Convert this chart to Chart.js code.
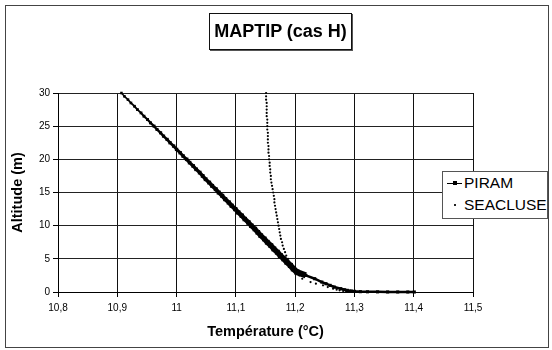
<!DOCTYPE html>
<html>
<head>
<meta charset="utf-8">
<script src="https://cdn.jsdelivr.net/npm/chart.js@4/dist/chart.umd.min.js"></script>
<style>
  body { margin: 0; background: #fff; }
  #wrap { position: relative; width: 552px; height: 350px; font-family: Arial, "Liberation Sans", sans-serif; }
  #frame { position: absolute; left: 5px; top: 5px; width: 542px; height: 341px; border: 1px solid #444; }
  #title { position: absolute; left: 209px; top: 13px; width: 141px; height: 35px; border: 1px solid #111;
           box-shadow: 1px 1px 0 #555; background: #fff; font-weight: bold; font-size: 18px;
           line-height: 35px; text-align: center; color: #000; }
  #legend { position: absolute; left: 442px; top: 171px; width: 104px; height: 46px; border: 1px solid #555;
            background: #fff; font-size: 15.5px; color: #000; }
  #legend div { position: relative; height: 22px; line-height: 22px; padding-left: 21px; }
  .sym-line { position: absolute; left: 4px; top: 11px; width: 15px; height: 1px; background: #000; }
  .sym-sq { position: absolute; left: 10px; top: 9px; width: 4px; height: 4px; background: #000; }
  .sym-dot { position: absolute; left: 11px; top: 10px; width: 2px; height: 2px; background: #222; }
  canvas { position: absolute; left: 0; top: 0; }
</style>
</head>
<body>
<div id="wrap">
  <div id="frame"></div>
  <canvas id="myChart" width="552" height="350"></canvas>
  <div id="title">MAPTIP (cas H)</div>
  <div id="legend">
    <div><span class="sym-line"></span><span class="sym-sq"></span>PIRAM</div>
    <div><span class="sym-dot"></span>SEACLUSE</div>
  </div>
</div>
<script>
// altitude grid (m), shared by both models
var altitude = [30, 29.5, 29, 28.5, 28, 27.5, 27, 26.5, 26, 25.5, 25, 24.5, 24, 23.5, 23, 22.5, 22, 21.5, 21, 20.5,
    20, 19.5, 19, 18.5, 18, 17.5, 17, 16.5, 16, 15.5, 15, 14.5, 14, 13.5, 13, 12.5, 12, 11.5, 11, 10.5,
    10, 9.5, 9, 8.5, 8, 7.5, 7, 6.5, 6, 5.5, 5, 4.5, 4, 3.5, 3, 2.5, 2, 1.5, 1.25, 1,
    0.75, 0.5, 0.35, 0.25, 0.15, 0.1, 0.05, 0.03, 0.02, 0.01, 0.005, 0.002, 0.001];

// temperature (°C)
var piram = [10.907, 10.912, 10.918, 10.923, 10.929, 10.934, 10.940, 10.945, 10.951, 10.956, 10.962, 10.967, 10.973, 10.978, 10.984, 10.989, 10.995, 11.000, 11.006, 11.011,
    11.017, 11.022, 11.028, 11.033, 11.039, 11.044, 11.049, 11.055, 11.060, 11.066, 11.071, 11.077, 11.082, 11.088, 11.093, 11.099, 11.104, 11.110, 11.115, 11.121,
    11.126, 11.132, 11.137, 11.142, 11.148, 11.153, 11.159, 11.164, 11.170, 11.175, 11.181, 11.186, 11.192, 11.197, 11.203, 11.218, 11.233, 11.245, 11.252, 11.259,
    11.266, 11.277, 11.283, 11.288, 11.295, 11.300, 11.310, 11.322, 11.339, 11.356, 11.373, 11.390, 11.401];

var seacluse = [11.151, 11.151, 11.151, 11.152, 11.152, 11.152, 11.152, 11.152, 11.153, 11.153, 11.153, 11.153, 11.154, 11.154, 11.154, 11.154, 11.155, 11.155, 11.155, 11.156,
    11.156, 11.157, 11.157, 11.158, 11.158, 11.159, 11.159, 11.160, 11.161, 11.162, 11.163, 11.164, 11.165, 11.165, 11.166, 11.167, 11.168, 11.169, 11.170, 11.171,
    11.172, 11.173, 11.174, 11.175, 11.176, 11.178, 11.179, 11.181, 11.183, 11.185, 11.188, 11.190, 11.193, 11.197, 11.202, 11.207, 11.212, 11.226, 11.235, 11.247,
    11.255, 11.264, 11.270, 11.275, 11.281, 11.286, 11.289, 11.291, 11.293, 11.295, 11.296, 11.297, 11.298];

var xTickLabels = ['10,8', '10,9', '11', '11,1', '11,2', '11,3', '11,4', '11,5'];

var font = 'Arial, "Liberation Sans", sans-serif';

var ctx = document.getElementById('myChart').getContext('2d');
var myChart = new Chart(ctx, {
    type: 'scatter',
    data: {
        datasets: [{
            label: 'PIRAM',
            data: altitude.map(function (a, i) { return { x: piram[i], y: a }; }),
            showLine: true,
            borderColor: '#000',
            backgroundColor: '#000',
            borderWidth: 1.5,
            // the printed band gets thicker toward the surface
            segment: {
                borderWidth: function (c) {
                    var y = c.p0.parsed.y;
                    return y >= 3 ? 1.5 + (30 - y) * 0.17 : 2.5;
                }
            },
            pointStyle: 'rect',
            pointRadius: function (c) {
                var y = c.raw ? c.raw.y : 30;
                return y >= 3 ? 1.8 + (30 - y) * 0.07 : 2.2;
            },
            pointBorderWidth: 0,
            clip: false
        }, {
            label: 'SEACLUSE',
            data: altitude.map(function (a, i) { return { x: seacluse[i], y: a }; }),
            showLine: false,
            borderColor: '#000',
            backgroundColor: '#000',
            pointStyle: 'circle',
            pointRadius: 1.1,
            pointBorderWidth: 0,
            clip: false
        }]
    },
    options: {
        responsive: false,
        animation: false,
        layout: { padding: { left: 5, top: 93, right: 79, bottom: 5 } },
        plugins: {
            legend: { display: false },
            tooltip: { enabled: false }
        },
        scales: {
            x: {
                type: 'linear',
                min: 10.8,
                max: 11.5,
                afterFit: function (s) { s.height = 53; },
                border: { color: '#000', width: 1 },
                grid: { color: '#111', lineWidth: 1, tickLength: 5, tickColor: '#000' },
                ticks: {
                    stepSize: 0.1,
                    autoSkip: false,
                    maxRotation: 0,
                    padding: 5,
                    color: '#000',
                    font: { family: font, size: 10 },
                    callback: function (v, i) { return xTickLabels[i]; }
                },
                title: {
                    display: true,
                    text: 'Température (°C)',
                    color: '#000',
                    font: { family: font, size: 14.5, weight: 'bold' },
                    padding: { top: 0, bottom: 4 }
                }
            },
            y: {
                min: 0,
                max: 30,
                afterFit: function (s) { s.width = 53; },
                border: { color: '#000', width: 1 },
                grid: { color: '#222', lineWidth: 1, tickLength: 5, tickColor: '#000' },
                ticks: {
                    stepSize: 5,
                    padding: 3,
                    color: '#000',
                    font: { family: font, size: 10 }
                },
                title: {
                    display: true,
                    text: 'Altitude (m)',
                    color: '#000',
                    font: { family: font, size: 14.5, weight: 'bold' },
                    padding: { top: 4, bottom: 0 }
                }
            }
        }
    }
});
</script>
</body>
</html>
